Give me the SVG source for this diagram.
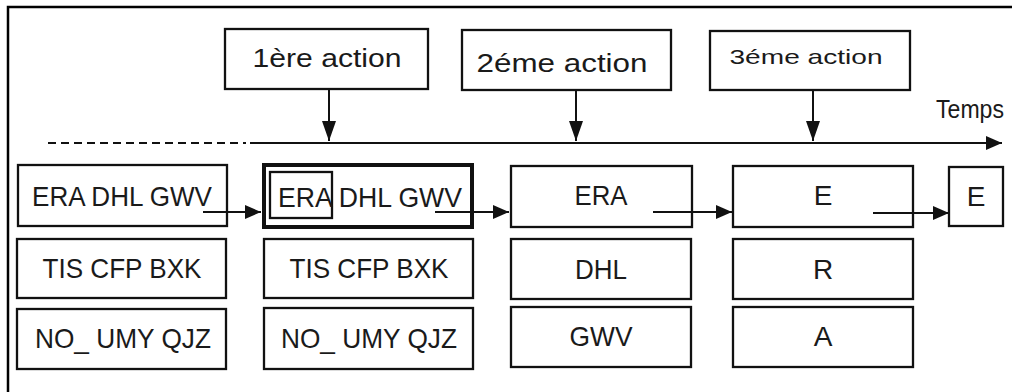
<svg xmlns="http://www.w3.org/2000/svg" width="1012" height="392" viewBox="0 0 1012 392">
<style>
.box{fill:#fff;stroke:#111;stroke-width:2.3}
.thick{fill:#fff;stroke:#111;stroke-width:4}
.t{font-family:"Liberation Sans",Arial,sans-serif;fill:#1a1a1a;text-anchor:middle}
.r{font-size:28px}
.ln{stroke:#111;stroke-width:2;fill:none}
</style>
<defs>
<marker id="ah" markerUnits="userSpaceOnUse" markerWidth="16" markerHeight="14" refX="16" refY="7" orient="auto"><path d="M0,0 L16,7 L0,14 Z" fill="#111"/></marker>
<marker id="ad" markerUnits="userSpaceOnUse" markerWidth="20" markerHeight="14" refX="20" refY="7" orient="auto"><path d="M0,0 L20,7 L0,14 Z" fill="#111"/></marker>
</defs>
<rect width="1012" height="392" fill="#fff"/>
<path d="M8,392 V7 H1012" fill="none" stroke="#000" stroke-width="2.5"/>

<g id="action1"><rect class="box" x="225" y="29" width="203" height="60"/><text class="t" x="327" y="67" font-size="25" textLength="149" lengthAdjust="spacingAndGlyphs">1ère action</text></g>
<g id="action2"><rect class="box" x="462" y="30" width="209" height="60"/><text class="t" x="562" y="72" font-size="26" textLength="171" lengthAdjust="spacingAndGlyphs">2éme action</text></g>
<g id="action3"><rect class="box" x="710" y="31" width="200" height="59"/><text class="t" x="806" y="64" font-size="21" textLength="153" lengthAdjust="spacingAndGlyphs">3éme action</text></g>
<g id="temps"><text class="t" x="970" y="118" font-size="26" textLength="68" lengthAdjust="spacingAndGlyphs">Temps</text></g>

<g id="c1r1"><rect class="box" x="18" y="165" width="209" height="61"/><text class="t r" x="122" y="206" textLength="180" lengthAdjust="spacingAndGlyphs">ERA DHL GWV</text></g>
<g id="c1r2"><rect class="box" x="17" y="239" width="209" height="59"/><text class="t r" x="122" y="278" textLength="159" lengthAdjust="spacingAndGlyphs">TIS CFP BXK</text></g>
<g id="c1r3"><rect class="box" x="17" y="309" width="209" height="60"/><text class="t r" x="123" y="348" textLength="176" lengthAdjust="spacingAndGlyphs">NO_ UMY QJZ</text></g>

<g id="c2r1"><rect class="thick" x="264" y="165" width="208" height="62"/><rect class="box" x="270" y="172" width="62" height="46" fill="none"/><text class="t r" x="370" y="207" textLength="184" lengthAdjust="spacingAndGlyphs">ERA DHL GWV</text></g>
<g id="c2r2"><rect class="box" x="264" y="239" width="209" height="59"/><text class="t r" x="369" y="278" textLength="159" lengthAdjust="spacingAndGlyphs">TIS CFP BXK</text></g>
<g id="c2r3"><rect class="box" x="264" y="308" width="209" height="61"/><text class="t r" x="369" y="348" textLength="176" lengthAdjust="spacingAndGlyphs">NO_ UMY QJZ</text></g>

<g id="c3r1"><rect class="box" x="511" y="166" width="181" height="61"/><text class="t r" x="601" y="205" textLength="53" lengthAdjust="spacingAndGlyphs">ERA</text></g>
<g id="c3r2"><rect class="box" x="511" y="239" width="180" height="60"/><text class="t r" x="601" y="279" textLength="52" lengthAdjust="spacingAndGlyphs">DHL</text></g>
<g id="c3r3"><rect class="box" x="511" y="307" width="180" height="60"/><text class="t r" x="601" y="346" textLength="63" lengthAdjust="spacingAndGlyphs">GWV</text></g>

<g id="c4r1"><rect class="box" x="733" y="166" width="180" height="61"/><text class="t r" x="823" y="205">E</text></g>
<g id="c4r2"><rect class="box" x="733" y="239" width="180" height="60"/><text class="t r" x="823" y="279">R</text></g>
<g id="c4r3"><rect class="box" x="733" y="307" width="180" height="60"/><text class="t r" x="823" y="346">A</text></g>

<g id="c5r1"><rect class="box" x="949" y="167" width="54" height="59"/><text class="t r" x="976" y="206">E</text></g>

<g id="connectors">
<line class="ln" x1="48" y1="143" x2="246" y2="143" stroke-dasharray="8,5"/>
<line class="ln" x1="250" y1="143" x2="1002" y2="143" marker-end="url(#ah)"/>
<line class="ln" x1="329" y1="89" x2="329" y2="141" marker-end="url(#ad)"/>
<line class="ln" x1="576" y1="90" x2="576" y2="141" marker-end="url(#ad)"/>
<line class="ln" x1="813" y1="90" x2="813" y2="141" marker-end="url(#ad)"/>
<line class="ln" x1="203" y1="212" x2="261" y2="212" marker-end="url(#ah)"/>
<line class="ln" x1="435" y1="212" x2="509" y2="212" marker-end="url(#ah)"/>
<line class="ln" x1="653" y1="212" x2="732" y2="212" marker-end="url(#ah)"/>
<line class="ln" x1="873" y1="213" x2="949" y2="213" marker-end="url(#ah)"/>
</g>
</svg>
